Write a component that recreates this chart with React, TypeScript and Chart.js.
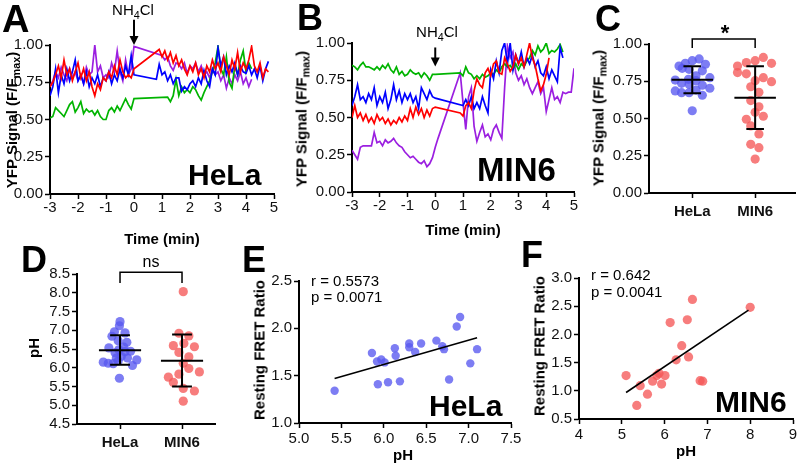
import React, { useEffect, useRef } from "react";
import { Chart, registerables } from "chart.js";
Chart.register(...registerables);

const FONT = "'Liberation Sans', Arial, Helvetica, sans-serif";
const N = null;

// ---------- Panels A/B: time courses ----------
const TIME = [-3.0,-2.9,-2.8,-2.7,-2.6,-2.5,-2.4,-2.3,-2.2,-2.1,-2.0,-1.9,-1.8,-1.7,-1.6,-1.5,-1.4,-1.3,-1.2,-1.1,-1.0,-0.9,-0.8,-0.7,-0.6,-0.5,-0.4,-0.3,-0.2,-0.1,0.0,0.1,0.2,0.3,0.4,0.5,0.6,0.7,0.8,0.9,1.0,1.1,1.2,1.3,1.4,1.5,1.6,1.7,1.8,1.9,2.0,2.1,2.2,2.3,2.4,2.5,2.6,2.7,2.8,2.9,3.0,3.1,3.2,3.3,3.4,3.5,3.6,3.7,3.8,3.9,4.0,4.1,4.2,4.3,4.4,4.5,4.6,4.7,4.8,4.9,5.0];

const RED_A = [0.72,0.75,0.80,0.86,0.78,0.90,0.80,0.84,0.76,0.82,
  0.88,0.78,0.84,0.76,0.82,0.72,0.66,0.74,0.70,0.78,
  0.76,0.82,0.78,0.86,0.80,0.90,0.82,0.78,0.80,0.78,
  0.84,N,N,N,N,N,N,N,N,
  0.97,0.92,0.96,0.90,0.95,0.88,0.93,0.86,0.90,0.84,
  0.80,0.86,0.82,0.88,0.80,0.84,0.78,0.86,0.82,0.90,
  0.84,0.88,0.82,0.92,0.86,0.80,0.90,0.84,0.95,0.82,
  0.88,0.84,0.90,0.99,0.86,0.82,0.88,0.78,0.84,0.82];
const BLUE_A = [0.66,0.72,0.84,0.68,0.80,0.74,0.84,0.76,0.82,0.90,
  0.76,0.80,0.74,0.82,0.72,0.78,0.74,0.80,0.72,0.78,
  0.76,0.82,0.74,0.80,0.76,0.84,0.78,0.86,0.80,0.93,
  0.80,N,N,N,N,N,N,N,
  0.77,0.87,
  0.80,0.82,0.76,0.80,0.74,0.78,0.78,0.69,0.72,0.70,
  0.74,0.76,0.72,0.78,0.74,0.83,0.76,0.72,0.84,0.80,
  0.98,0.86,0.92,0.80,0.86,0.82,0.88,0.80,0.86,0.82,
  0.81,0.86,0.80,0.84,0.78,0.86,0.76,0.84,0.89];
const GREEN_A = [0.51,0.52,0.58,0.56,0.54,0.52,0.56,0.60,0.62,0.55,
  0.58,0.62,0.54,0.57,0.55,0.56,0.53,0.56,0.52,0.50,
  0.50,0.56,0.58,0.55,0.59,0.56,0.60,0.64,0.60,0.57,
  0.64,N,N,N,N,N,N,N,N,N,N,N,
  0.65,0.62,0.66,0.77,0.66,0.72,0.68,0.70,0.68,0.72,
  0.70,0.66,0.63,0.68,0.72,0.76,0.82,0.88,0.99,0.84,
  0.80,0.92,0.75,0.71,0.86,0.80,0.90,0.96,0.82,0.88,
  0.84];
const PURPLE_A = [0.72,0.76,0.82,0.78,0.85,0.80,0.76,0.84,0.78,0.82,
  0.76,0.80,0.74,0.85,0.80,0.82,1.00,0.82,0.86,0.78,
  0.80,0.78,0.88,0.82,0.96,0.82,0.76,0.90,0.80,0.84,
  0.99,N,N,N,N,N,N,N,N,N,
  0.93,0.90,0.92,0.86,0.83,0.88,0.87,0.84,0.88,0.81,
  0.86,0.84,0.88,0.82,0.86,0.80,0.82,0.78,0.84,0.80,
  0.82,0.76,0.80,0.71,0.78,0.74,0.80,0.76,0.82,0.74,
  0.78,0.72,0.77];

const RED_B = [0.50,0.58,0.50,0.53,0.48,0.52,0.47,0.50,0.46,0.52,
  0.48,0.50,0.46,0.49,0.45,0.48,0.46,0.50,0.47,0.51,
  0.48,0.56,0.50,0.57,0.52,0.56,0.50,0.55,0.51,0.56,
  0.57,N,N,N,N,N,N,N,N,
  0.53,0.51,0.58,0.60,0.56,0.68,0.76,0.72,0.70,0.80,
  0.83,0.78,0.86,0.88,0.80,0.79,0.90,0.86,0.81,0.84,
  0.92,0.86,0.90,0.84,0.92,1.00,0.90,0.85,0.76,0.68,
  0.72,0.79,0.90];
const BLUE_B = [0.58,0.64,0.72,0.62,0.64,0.60,0.66,0.62,0.70,0.58,
  0.64,0.60,0.67,0.56,0.62,0.72,0.62,0.68,0.60,0.66,
  0.62,0.66,0.60,0.64,0.56,0.70,0.66,0.62,0.68,0.64,
  0.63,N,N,N,N,N,N,N,N,N,
  0.58,0.62,0.58,0.64,0.56,0.60,0.56,0.64,0.58,0.53,
  0.82,0.76,0.88,0.80,0.95,1.00,0.86,1.00,0.82,0.92,
  0.86,0.94,0.84,0.90,0.86,0.92,0.84,0.88,0.80,0.78,
  0.84,0.76,0.82,0.78,0.74,0.97,0.90];
const GREEN_B = [0.85,0.84,0.82,0.85,0.87,0.84,0.84,0.83,0.82,0.84,
  0.82,0.85,0.83,0.86,0.82,0.80,0.84,0.79,0.81,0.78,
  0.79,0.82,0.80,0.79,0.80,0.77,0.80,0.78,0.75,0.79,
  0.79,N,N,N,N,N,N,N,N,
  0.80,0.78,0.84,0.80,0.79,0.76,0.78,0.76,0.79,0.77,
  0.78,0.80,0.79,0.82,0.80,0.84,0.86,0.84,0.85,0.82,
  0.86,0.82,0.86,0.84,0.88,0.90,0.95,0.92,0.98,0.94,
  0.96,1.00,0.93,0.95,0.94,0.96,0.99,0.94];
const PURPLE_B = [0.28,0.25,0.22,0.30,0.31,0.31,0.31,0.31,0.40,0.33,
  0.34,0.31,0.35,0.33,0.34,0.36,0.33,0.31,0.30,0.27,
  0.25,0.23,0.24,0.22,0.20,0.19,0.21,0.17,0.19,0.23,
  0.30,0.36,N,N,N,N,N,N,N,0.80,
  0.60,0.42,0.64,0.70,0.44,0.34,0.40,0.45,0.37,0.39,
  0.35,0.42,0.45,0.40,0.36,0.70,0.98,0.90,0.94,0.80,
  0.75,0.78,0.72,0.76,0.70,0.66,0.70,0.74,0.66,0.70,
  0.54,0.62,0.70,0.62,0.64,0.60,0.67,0.66,0.67,0.67,0.83];

const TRACE_COLORS = ["#ff0000", "#0000ff", "#00b400", "#9b1fe0"];
const TIME_TICKS = { min: -3, max: 5, step: 1 };
const YFP_TICKS = { min: 0, max: 1, step: 0.25 };

// ---------- Panel C: YFP scatter ----------
const CATS = ["HeLa", "MIN6"];
const C_HELA_DX = [-0.21,-0.11,0,0.11,0.21,-0.16,-0.05,0.16,0.06,-0.27,-0.06,0.28,-0.17,-0.05,0.06,0.16,-0.27,-0.17,-0.05,0.06,0.16,0.28,0];
const C_HELA_Y = [0.852,0.87,0.888,0.90,0.864,0.837,0.83,0.82,0.787,0.758,0.763,0.774,0.736,0.73,0.754,0.723,0.685,0.673,0.673,0.691,0.656,0.703,0.552];
const C_MIN6_DX = [-0.28,-0.14,0,0.13,0.26,-0.28,-0.14,0,0.13,0.26,-0.07,0.06,-0.07,0.06,0,0.13,-0.14,-0.07,0.06,-0.07,0.06,0];
const C_MIN6_Y = [0.852,0.875,0.888,0.91,0.87,0.808,0.80,0.754,0.774,0.747,0.713,0.676,0.62,0.579,0.542,0.515,0.495,0.45,0.396,0.327,0.304,0.228];
const C_MEAN = [0.76, 0.64];
const C_SD_LO = [0.67, 0.43];
const C_SD_HI = [0.85, 0.85];

// ---------- Panel D: pH scatter ----------
const D_HELA_DX = [0,-0.01,-0.09,0.08,-0.13,-0.03,0.11,-0.18,-0.02,-0.08,0.08,0.17,0.02,0.12,-0.27,-0.19,-0.11,-0.03,0.27,0.2,-0.01,0.06,-0.06];
const D_HELA_Y = [7.23,7.12,6.96,6.93,6.84,6.72,6.68,6.53,6.48,6.40,6.43,6.44,6.30,6.26,6.15,6.12,6.11,6.18,6.21,6.06,5.72,6.55,6.26];
const D_MIN6_DX = [0.02,-0.05,0.11,-0.14,0.03,0.2,-0.05,0.11,0.02,0.11,-0.05,0.28,-0.22,-0.14,0.02,0.2,0.02];
const D_MIN6_Y = [8.03,6.92,6.85,6.59,6.65,6.56,6.41,6.29,6.12,5.98,5.83,5.89,5.75,5.61,5.45,5.38,5.11];
const D_MEAN = [6.47, 6.19];
const D_SD_LO = [6.08, 5.50];
const D_SD_HI = [6.87, 6.89];

// ---------- Panel E: HeLa correlation ----------
const E_PH = [5.42,5.86,5.92,5.97,6.01,5.93,6.05,6.13,6.14,6.19,6.30,6.30,6.37,6.44,6.62,6.69,6.71,6.77,6.86,6.90,7.02,7.10];
const E_FRET = [1.34,1.74,1.65,1.67,1.64,1.41,1.43,1.79,1.71,1.44,1.84,1.80,1.75,1.84,1.87,1.81,1.78,1.46,2.02,2.12,1.63,1.78];
const E_FIT_X = [5.42, 7.10];
const E_FIT_Y = [1.47, 1.90];

// ---------- Panel F: MIN6 correlation ----------
const F_PH = [5.10,5.35,5.43,5.60,5.72,5.82,5.87,5.93,6.01,6.13,6.27,6.40,6.53,6.56,6.65,6.83,6.89,8.00];
const F_FRET = [1.27,0.74,1.09,0.94,1.17,1.27,1.31,1.12,1.27,2.21,1.55,1.80,2.26,1.60,2.62,1.18,1.17,2.48];
const F_FIT_X = [5.10, 7.96];
const F_FIT_Y = [0.97, 2.43];

const BLUE_DOT = "rgba(88,88,240,0.78)";
const RED_DOT = "rgba(245,88,88,0.78)";

// ---------- helpers ----------
const W_Y = 50;
const H_X = 30;

function pad(L: number, T: number, R: number, B: number) {
  return { left: L - W_Y, top: T, right: 800 - R, bottom: 470 - B - H_X };
}

function scale(min: number, max: number, step: number, fmt: (v: number) => string, isY: boolean, extra: any = {}) {
  return {
    type: "linear",
    min, max,
    ticks: {
      stepSize: step,
      callback: (v: any) => fmt(Number(v)),
      color: "#111",
      font: { family: FONT, size: 15, ...(extra.font || {}) },
      padding: extra.padding ?? 2,
      maxRotation: 0,
      autoSkip: false,
    },
    grid: { drawOnChartArea: false, drawTicks: true, tickLength: 5, tickWidth: 1.5, tickColor: "#000", color: "#000" },
    border: { display: true, color: "#000", width: 2 },
    afterFit: (s: any) => {
      if (isY) s.width = W_Y; else s.height = H_X;
    },
    ...(extra.afterBuildTicks ? { afterBuildTicks: extra.afterBuildTicks } : {}),
  };
}

function baseOptions(padding: any, scales: any, plugins: any = {}) {
  return {
    responsive: false,
    animation: false,
    devicePixelRatio: 1,
    events: [],
    layout: { padding },
    plugins: { legend: { display: false }, tooltip: { enabled: false }, ...plugins },
    scales,
  };
}

function arrowPlugin(t: number, yTop: number, yTip: number) {
  return {
    id: "arrow" + yTop,
    afterDraw(chart: any) {
      const { ctx, scales } = chart;
      const x = scales.x.getPixelForValue(t);
      const y1 = scales.y.getPixelForValue(yTop);
      const y2 = scales.y.getPixelForValue(yTip);
      ctx.save();
      ctx.strokeStyle = "#000";
      ctx.fillStyle = "#000";
      ctx.lineWidth = 2;
      ctx.beginPath();
      ctx.moveTo(x, y1);
      ctx.lineTo(x, y2 - 8);
      ctx.stroke();
      ctx.beginPath();
      ctx.moveTo(x - 4.5, y2 - 9);
      ctx.lineTo(x + 4.5, y2 - 9);
      ctx.lineTo(x, y2);
      ctx.closePath();
      ctx.fill();
      ctx.restore();
    },
  };
}

function meanSdPlugin(means: number[], lo: number[], hi: number[], half: number, cap: number) {
  return {
    id: "meanSd",
    afterDatasetsDraw(chart: any) {
      const { ctx, scales } = chart;
      const X = scales.x, Y = scales.y;
      ctx.save();
      ctx.strokeStyle = "#000";
      ctx.lineWidth = 2;
      means.forEach((m, i) => {
        const cx = X.getPixelForValue(i);
        ctx.beginPath();
        ctx.moveTo(X.getPixelForValue(i - half), Y.getPixelForValue(m));
        ctx.lineTo(X.getPixelForValue(i + half), Y.getPixelForValue(m));
        ctx.moveTo(cx, Y.getPixelForValue(lo[i]));
        ctx.lineTo(cx, Y.getPixelForValue(hi[i]));
        [lo[i], hi[i]].forEach((v) => {
          ctx.moveTo(X.getPixelForValue(i - cap), Y.getPixelForValue(v));
          ctx.lineTo(X.getPixelForValue(i + cap), Y.getPixelForValue(v));
        });
        ctx.stroke();
      });
      ctx.restore();
    },
  };
}

function bracketPlugin(yTop: number, yBot: number) {
  return {
    id: "bracket",
    afterDraw(chart: any) {
      const { ctx, scales } = chart;
      const x1 = scales.x.getPixelForValue(0);
      const x2 = scales.x.getPixelForValue(1);
      const yt = scales.y.getPixelForValue(yTop);
      const yb = scales.y.getPixelForValue(yBot);
      ctx.save();
      ctx.strokeStyle = "#000";
      ctx.lineWidth = 1.5;
      ctx.beginPath();
      ctx.moveTo(x1, yb);
      ctx.lineTo(x1, yt);
      ctx.lineTo(x2, yt);
      ctx.lineTo(x2, yb);
      ctx.stroke();
      ctx.restore();
    },
  };
}

function traceDatasets(series: (number | null)[][]) {
  return series.map((vals, k) => ({
    data: TIME.map((t, i) => ({ x: t, y: vals[i] ?? null })).filter((p) => p.y !== null),
    showLine: true,
    borderColor: TRACE_COLORS[k],
    borderWidth: 1.7,
    pointRadius: 0,
    tension: 0,
  }));
}

const f2 = (v: number) => v.toFixed(2);
const f1 = (v: number) => v.toFixed(1);
const f0 = (v: number) => String(Math.round(v));

function catScale(min: number, max: number) {
  return scale(min, max, 1, (v) => CATS[Math.round(v)] ?? "", false, {
    font: { weight: "bold" },
    padding: 5,
    afterBuildTicks: (s: any) => {
      s.ticks = CATS.map((_, i) => ({ value: i }));
    },
  });
}

function dots(dx: number[], ys: number[], center: number, color: string, r: number) {
  return {
    data: dx.map((d, i) => ({ x: center + d, y: ys[i] })),
    backgroundColor: color,
    borderWidth: 0,
    pointRadius: r,
  };
}

function configA() {
  return {
    type: "scatter",
    data: { datasets: traceDatasets([RED_A, BLUE_A, GREEN_A, PURPLE_A]) },
    options: baseOptions(pad(50, 45, 274, 194), {
      x: scale(TIME_TICKS.min, TIME_TICKS.max, TIME_TICKS.step, f0, false, { padding: 0 }),
      y: scale(YFP_TICKS.min, YFP_TICKS.max, YFP_TICKS.step, f2, true),
    }),
    plugins: [arrowPlugin(0, 1.17, 1.0)],
  };
}

function configB() {
  return {
    type: "scatter",
    data: { datasets: traceDatasets([RED_B, BLUE_B, GREEN_B, PURPLE_B]) },
    options: baseOptions(pad(352, 43, 574, 192), {
      x: scale(TIME_TICKS.min, TIME_TICKS.max, TIME_TICKS.step, f0, false, { padding: 0 }),
      y: scale(YFP_TICKS.min, YFP_TICKS.max, YFP_TICKS.step, f2, true),
    }),
    plugins: [arrowPlugin(0, 0.97, 0.842)],
  };
}

function configC() {
  return {
    type: "scatter",
    data: {
      datasets: [
        dots(C_HELA_DX, C_HELA_Y, 0, BLUE_DOT, 4.6),
        dots(C_MIN6_DX, C_MIN6_Y, 1, RED_DOT, 4.6),
      ],
    },
    options: baseOptions(pad(649, 44, 798, 193), {
      x: catScale(-0.6875, 1.64),
      y: scale(0, 1, 0.25, f2, true),
    }),
    plugins: [meanSdPlugin(C_MEAN, C_SD_LO, C_SD_HI, 0.33, 0.14), bracketPlugin(1.034, 0.973)],
  };
}

function configD() {
  return {
    type: "scatter",
    data: {
      datasets: [
        dots(D_HELA_DX, D_HELA_Y, 0, BLUE_DOT, 4.6),
        dots(D_MIN6_DX, D_MIN6_Y, 1, RED_DOT, 4.6),
      ],
    },
    options: baseOptions(pad(77, 274, 215, 424), {
      x: catScale(-0.694, 1.532),
      y: scale(4.5, 8.5, 0.5, f1, true),
    }),
    plugins: [meanSdPlugin(D_MEAN, D_SD_LO, D_SD_HI, 0.34, 0.16), bracketPlugin(8.55, 8.26)],
  };
}

function corrConfig(px: number[], fy: number[], fitX: number[], fitY: number[], color: string, r: number, box: number[], xs: any, ys: any) {
  return {
    type: "scatter",
    data: {
      datasets: [
        { data: fitX.map((x, i) => ({ x, y: fitY[i] })), showLine: true, borderColor: "#000", borderWidth: 1.6, pointRadius: 0 },
        { data: px.map((x, i) => ({ x, y: fy[i] })), backgroundColor: color, borderWidth: 0, pointRadius: r },
      ],
    },
    options: baseOptions(pad(box[0], box[1], box[2], box[3]), { x: xs, y: ys }),
  };
}

function ChartCanvas({ make }: { make: () => any }) {
  const ref = useRef<HTMLCanvasElement | null>(null);
  useEffect(() => {
    const chart = new Chart(ref.current as HTMLCanvasElement, make());
    return () => chart.destroy();
  }, []);
  return (
    <canvas
      ref={ref}
      width={800}
      height={470}
      style={{ position: "absolute", left: 0, top: 0, width: 800, height: 470 }}
    />
  );
}

function Label({ x, y, size = 15, bold = false, align = "left", children }: any) {
  return (
    <div
      style={{
        position: "absolute",
        left: x,
        top: y - 0.8465 * size,
        fontSize: size,
        lineHeight: 1,
        fontWeight: bold ? 700 : 400,
        whiteSpace: "nowrap",
        transform: align === "center" ? "translateX(-50%)" : undefined,
      }}
    >
      {children}
    </div>
  );
}

function VLabel({ x, y, size = 15, children }: any) {
  return (
    <div
      style={{
        position: "absolute",
        left: x,
        top: y,
        fontSize: size,
        fontWeight: 700,
        lineHeight: 1,
        whiteSpace: "nowrap",
        transform: "translate(-50%,-50%) rotate(-90deg)",
      }}
    >
      {children}
    </div>
  );
}

const Sub = ({ children }: any) => (
  <span style={{ fontSize: "0.72em", position: "relative", top: "0.32em", lineHeight: 0 }}>{children}</span>
);

const YFP = () => (
  <>
    YFP Signal (F/F<Sub>max</Sub>)
  </>
);

export default function App() {
  Chart.defaults.font.family = FONT;
  return (
    <div
      style={{
        position: "fixed",
        left: 0,
        top: 0,
        width: 800,
        height: 470,
        background: "#fff",
        overflow: "hidden",
        fontFamily: FONT,
        color: "#000",
      }}
    >
      <ChartCanvas make={configA} />
      <ChartCanvas make={configB} />
      <ChartCanvas make={configC} />
      <ChartCanvas make={configD} />
      <ChartCanvas
        make={() =>
          corrConfig(E_PH, E_FRET, E_FIT_X, E_FIT_Y, BLUE_DOT, 4.2, [299, 281, 511, 423],
            scale(5, 7.5, 0.5, f1, false), scale(1, 2.5, 0.5, f1, true))
        }
      />
      <ChartCanvas
        make={() =>
          corrConfig(F_PH, F_FRET, F_FIT_X, F_FIT_Y, RED_DOT, 4.6, [579, 278, 793, 419],
            scale(4, 9, 1, f0, false), scale(0.5, 3, 0.5, f1, true))
        }
      />

      {/* panel letters */}
      <Label x={2} y={32} size={38} bold>A</Label>
      <Label x={297} y={30} size={36} bold>B</Label>
      <Label x={595} y={31} size={36} bold>C</Label>
      <Label x={21} y={272} size={36} bold>D</Label>
      <Label x={242} y={272} size={36} bold>E</Label>
      <Label x={521} y={267} size={36} bold>F</Label>

      {/* A */}
      <Label x={133} y={15} size={15} align="center">NH<Sub>4</Sub>Cl</Label>
      <VLabel x={11} y={120}><YFP /></VLabel>
      <Label x={162} y={244} bold align="center">Time (min)</Label>
      <Label x={188} y={185} size={30} bold>HeLa</Label>

      {/* B */}
      <Label x={437} y={37} size={15} align="center">NH<Sub>4</Sub>Cl</Label>
      <VLabel x={301} y={119}><YFP /></VLabel>
      <Label x={463} y={235} bold align="center">Time (min)</Label>
      <Label x={477} y={181} size={33} bold>MIN6</Label>

      {/* C */}
      <VLabel x={598} y={118}><YFP /></VLabel>
      <Label x={725} y={41} size={22} bold align="center">*</Label>

      {/* D */}
      <VLabel x={33} y={348}>pH</VLabel>
      <Label x={151} y={268} size={16} align="center">ns</Label>

      {/* E */}
      <VLabel x={259} y={350}>Resting FRET Ratio</VLabel>
      <Label x={403} y={460} bold align="center">pH</Label>
      <Label x={311} y={286}>r = 0.5573</Label>
      <Label x={311} y={302}>p = 0.0071</Label>
      <Label x={429} y={416} size={30} bold>HeLa</Label>

      {/* F */}
      <VLabel x={539} y={346}>Resting FRET Ratio</VLabel>
      <Label x={686} y={456} bold align="center">pH</Label>
      <Label x={591} y={280}>r = 0.642</Label>
      <Label x={591} y={297}>p = 0.0041</Label>
      <Label x={715} y={412} size={30} bold>MIN6</Label>
    </div>
  );
}
